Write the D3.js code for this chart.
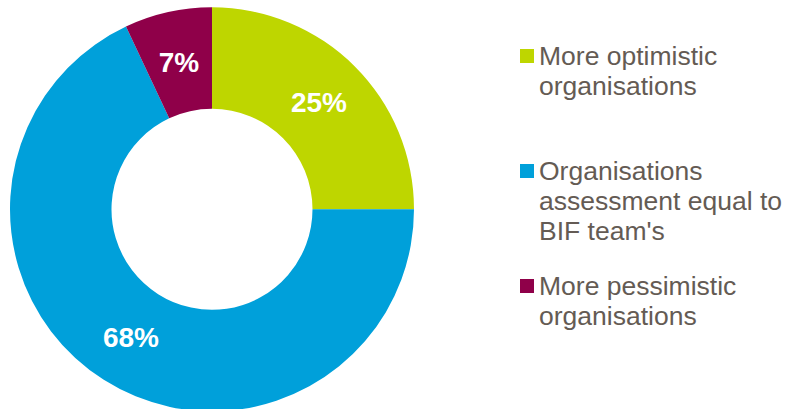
<!DOCTYPE html>
<html>
<head>
<meta charset="utf-8">
<script src="https://cdn.jsdelivr.net/npm/d3@7"></script>
<style>
  html, body { margin: 0; padding: 0; background: #ffffff; }
  svg { display: block; }
</style>
</head>
<body>
<div id="chart"></div>
<script>
// Share of organisations by how their self-assessment compares with the BIF team's
const categories = ["More optimistic organisations", "Organisations assessment equal to BIF team's", "More pessimistic organisations"];
const values = [25, 68, 7];
const colors = ["#BED600", "#00A0DA", "#8F0049"];
// Legend entries broken into display lines
const legendLines = [
  ["More optimistic", "organisations"],
  ["Organisations", "assessment equal to", "BIF team's"],
  ["More pessimistic", "organisations"]
];

const width = 786, height = 409;
const svg = d3.select("#chart").append("svg")
  .attr("width", width).attr("height", height);

const cx = 212, cy = 209.3;
const outerR = 202, innerR = 100.5;

const pie = d3.pie().sort(null).value(d => d)(values);
const arc = d3.arc().innerRadius(innerR).outerRadius(outerR);
const color = d3.scaleOrdinal().domain(categories).range(colors);

const g = svg.append("g").attr("transform", `translate(${cx},${cy})`);

g.selectAll("path.slice")
  .data(pie)
  .join("path")
  .attr("class", "slice")
  .attr("d", arc)
  .attr("fill", (d, i) => color(categories[i]));

g.selectAll("text.pct")
  .data(pie)
  .join("text")
  .attr("class", "pct")
  .attr("transform", d => `translate(${arc.centroid(d)})`)
  .attr("text-anchor", "middle")
  .attr("dy", "0.36em")
  .attr("fill", "#ffffff")
  .attr("font-family", "Liberation Sans, Arial, sans-serif")
  .attr("font-weight", "bold")
  .attr("font-size", 28)
  .text(d => d.data + "%");

// Legend
const legendTop = [65, 180, 295];
const lineH = 30;
const legend = svg.append("g");
categories.forEach((c, i) => {
  const row = legend.append("g");
  row.append("rect")
    .attr("x", 520).attr("y", legendTop[i] - 16)
    .attr("width", 14).attr("height", 14)
    .attr("fill", color(c));
  const t = row.append("text")
    .attr("x", 539).attr("y", legendTop[i])
    .attr("fill", "#645B54")
    .attr("font-family", "Liberation Sans, Arial, sans-serif")
    .attr("font-size", 26.5);
  legendLines[i].forEach((ln, j) => {
    t.append("tspan").attr("x", 539).attr("y", legendTop[i] + j * lineH).text(ln);
  });
});
</script>
</body>
</html>
